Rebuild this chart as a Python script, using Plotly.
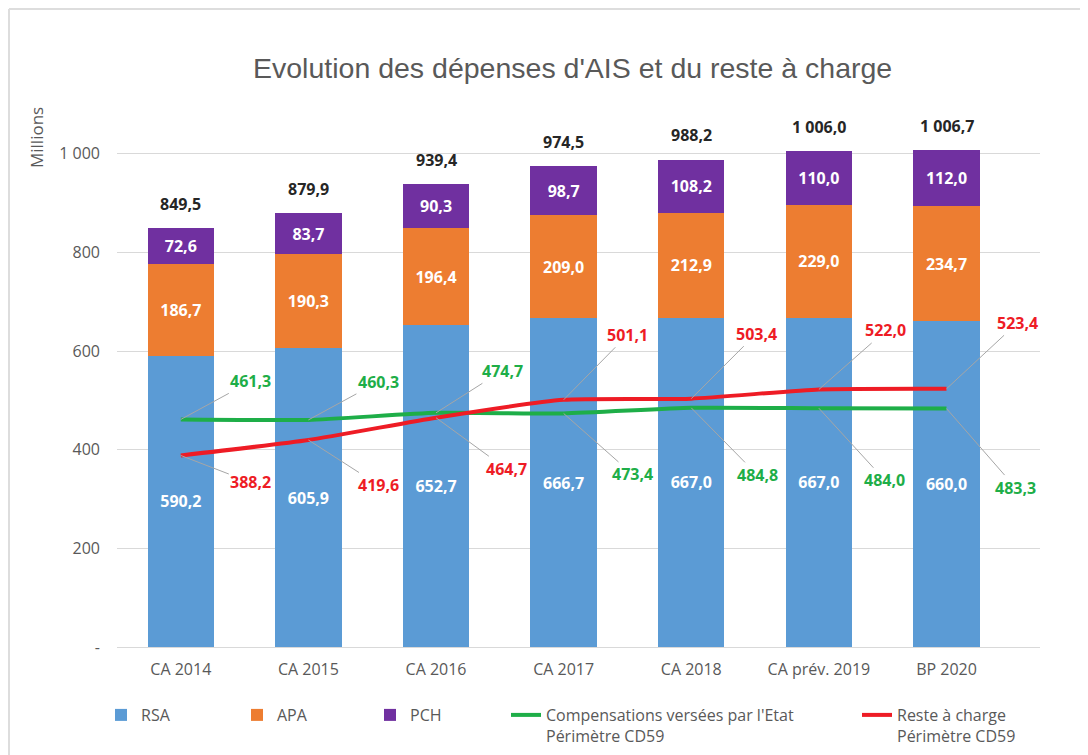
import plotly.graph_objects as go

categories = ["CA 2014", "CA 2015", "CA 2016", "CA 2017", "CA 2018", "CA prév. 2019", "BP 2020"]
rsa = [590.2, 605.9, 652.7, 666.7, 667.0, 667.0, 660.0]
apa = [186.7, 190.3, 196.4, 209.0, 212.9, 229.0, 234.7]
pch = [72.6, 83.7, 90.3, 98.7, 108.2, 110.0, 112.0]
totals = [849.5, 879.9, 939.4, 974.5, 988.2, 1006.0, 1006.7]
compensations = [461.3, 460.3, 474.7, 473.4, 484.8, 484.0, 483.3]
reste = [388.2, 419.6, 464.7, 501.1, 503.4, 522.0, 523.4]
ytick_vals = [0, 200, 400, 600, 800, 1000]
ytick_text = ["-", "200", "400", "600", "800", "1 000"]

# label offsets (px) for line value labels
green_off = [(70, -38), (70, -38), (66, -42), (69, 61), (66, 67), (66, 72), (69, 79)]
red_off = [(70, 27), (70, 45), (70, 51), (64, -65), (65, -65), (67, -59), (71, -66)]

BLUE = "#5B9BD5"
ORANGE = "#ED7D31"
PURPLE = "#7030A0"
GREEN = "#1EAE48"
RED = "#EE1C25"
GRAY = "#595959"
FONT = "Open Sans"


def fr(v):
    s = f"{v:,.1f}"
    return s.replace(",", " ").replace(".", ",")


# page has an 8px body margin; figure coordinates = page coordinates - 8
OFF = 8
W, H = 1080, 747
L, R, T, B = 109, 48, 121, 108
PW = W - L - R
PH = H - T - B


def px_x(p):
    return (p - OFF - L) / PW


def px_y(p):
    return (H - B - (p - OFF)) / PH


fig = go.Figure()
bar_font = dict(family=FONT, size=16, color="white", weight="bold")
for name, vals, col, lg in [("RSA", rsa, BLUE, "legend"), ("APA", apa, ORANGE, "legend2"), ("PCH", pch, PURPLE, "legend3")]:
    fig.add_trace(go.Bar(
        x=categories, y=vals, name=name, marker=dict(color=col, line=dict(width=0)),
        text=[fr(v) for v in vals], textposition="inside", insidetextanchor="middle",
        textangle=0, textfont=bar_font, legend=lg, hoverinfo="skip",
    ))

fig.add_trace(go.Scatter(
    x=categories, y=compensations, mode="lines", name="Compensations versées par l'Etat<br>Périmètre CD59",
    line=dict(color=GREEN, width=4, shape="spline", smoothing=0.5), legend="legend4",
))
fig.add_trace(go.Scatter(
    x=categories, y=reste, mode="lines", name="Reste à charge<br>Périmètre CD59",
    line=dict(color=RED, width=4, shape="spline", smoothing=0.5), legend="legend5",
))

annotations = []
for c, t in zip(categories, totals):
    annotations.append(dict(x=c, y=t, text=fr(t), showarrow=False, yanchor="bottom", yshift=11,
                            font=dict(family=FONT, size=16, color="#262626", weight="bold")))
for c, v, (ax, ay) in zip(categories, compensations, green_off):
    annotations.append(dict(x=c, y=v, text=fr(v), showarrow=True, ax=ax, ay=ay, arrowhead=0,
                            arrowwidth=1, arrowcolor="#A6A6A6", standoff=0,
                            font=dict(family=FONT, size=16, color=GREEN, weight="bold")))
for c, v, (ax, ay) in zip(categories, reste, red_off):
    annotations.append(dict(x=c, y=v, text=fr(v), showarrow=True, ax=ax, ay=ay, arrowhead=0,
                            arrowwidth=1, arrowcolor="#A6A6A6", standoff=0,
                            font=dict(family=FONT, size=16, color=RED, weight="bold")))
annotations.append(dict(xref="paper", yref="paper", x=px_x(37), y=px_y(138), text="Millions",
                        xanchor="center", yanchor="middle",
                        textangle=-90, showarrow=False, font=dict(family=FONT, size=17, color=GRAY)))
annotations.append(dict(xref="paper", yref="paper", x=px_x(572), y=px_y(68),
                        xanchor="center", yanchor="middle",
                        text="Evolution des dépenses d'AIS et du reste à charge", showarrow=False,
                        font=dict(family="Liberation Sans", size=28.5, color=GRAY)))

leg_font = dict(family=FONT, size=16, color=GRAY)
leg_y = px_y(698)


def leg(text_px):
    return dict(x=px_x(text_px - 40), y=leg_y, xanchor="left", yanchor="top", orientation="h",
                font=leg_font, valign="top", bgcolor="rgba(0,0,0,0)", itemwidth=30)


fig.update_layout(
    width=W, height=H,
    margin=dict(l=L, r=R, t=T, b=B, autoexpand=False),
    paper_bgcolor="white", plot_bgcolor="white",
    barmode="stack", bargap=0.48,
    showlegend=True,
    legend=leg(141), legend2=leg(277), legend3=leg(410), legend4=leg(546), legend5=leg(897),
    annotations=annotations,
    xaxis=dict(showgrid=False, showline=True, linecolor="#D9D9D9", linewidth=1,
               tickfont=dict(family=FONT, size=16, color=GRAY), ticks="", fixedrange=True,
               ticklabelstandoff=8),
    yaxis=dict(range=[0, 1050], tickvals=ytick_vals, ticktext=ytick_text, showgrid=True,
               gridcolor="#D9D9D9", gridwidth=1, zeroline=False, showline=False,
               tickfont=dict(family=FONT, size=16, color=GRAY), ticklabelstandoff=16),
    uniformtext=dict(minsize=16, mode="show"),
    shapes=[
        dict(type="line", xref="paper", yref="paper", x0=px_x(9), x1=px_x(9), y0=px_y(9), y1=px_y(755),
             line=dict(color="#DDDDDD", width=2)),
        dict(type="line", xref="paper", yref="paper", x0=px_x(9), x1=px_x(1088), y0=px_y(9), y1=px_y(9),
             line=dict(color="#DDDDDD", width=2)),
    ],
)

fig.write_html("out.html")
